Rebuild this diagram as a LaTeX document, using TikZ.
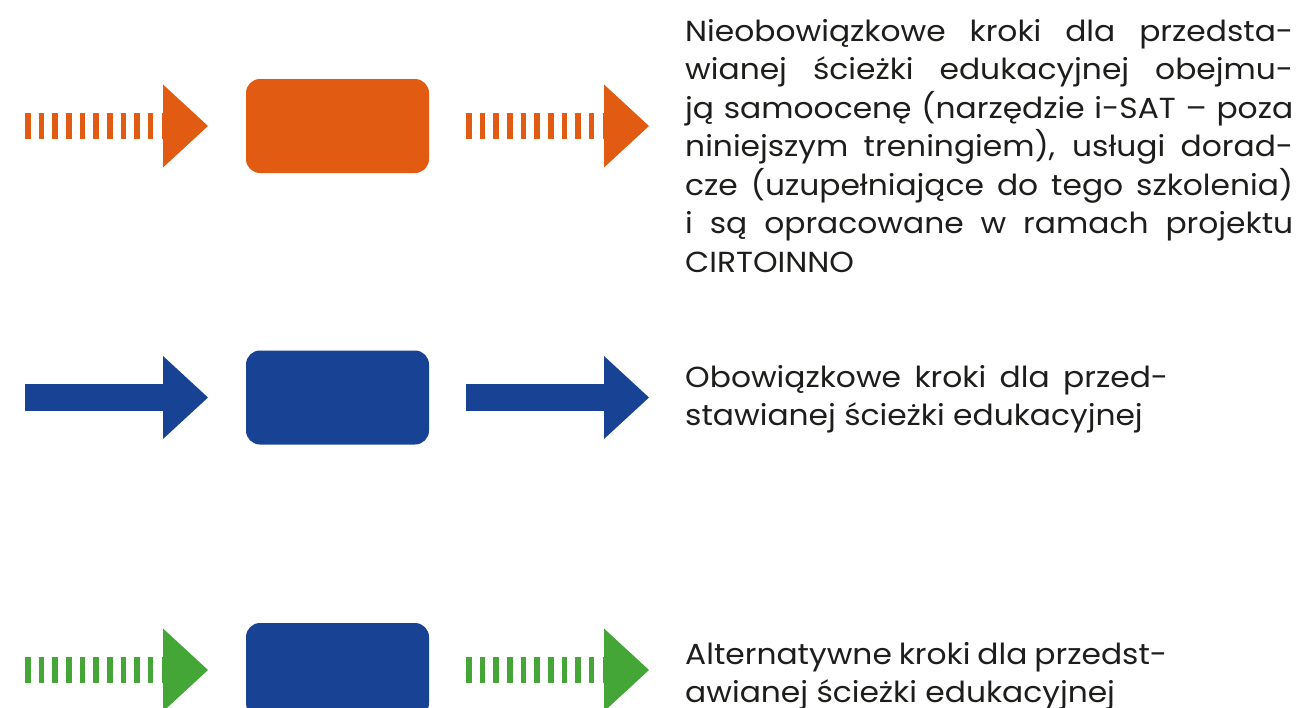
\documentclass[tikz,border=0pt]{standalone}
\usepackage{fontspec}
\setmainfont{Poppins}[FakeStretch=1.08]
\definecolor{stepOrange}{HTML}{E25B12}
\definecolor{stepBlue}{HTML}{184395}
\definecolor{stepGreen}{HTML}{43A637}
\definecolor{textGray}{HTML}{1D1D1B}
\tikzset{
  stepbox/.style={minimum width=183pt, minimum height=94pt, inner sep=0pt,
    rounded corners=14pt},
  legendtext/.style={anchor=base west, inner sep=0pt, text=textGray,
    font=\fontsize{29}{38.5}\selectfont},
  pics/striped arrow/.style={code={
    \draw[#1, line width=26pt, dash pattern=on 5.6pt off 8.05pt] (0,0) -- (138,0);
    \fill[#1] (138,-41.5) -- (183,0) -- (138,41.5) -- cycle;
  }},
  pics/solid arrow/.style={code={
    \fill[#1] (0,-13.5) rectangle (139,13.5);
    \fill[#1] (138,-41.5) -- (183,0) -- (138,41.5) -- cycle;
  }},
}
\begin{document}
\begin{tikzpicture}[x=1pt, y=-1pt]
\useasboundingbox (0,0) rectangle (1300,707);
\clip (0,0) rectangle (1300,707);

% optional steps
\pic at (25,126) {striped arrow=stepOrange};
\node[stepbox, fill=stepOrange] (optbox) at (337.5,126) {};
\pic at (466,126) {striped arrow=stepOrange};
\node[legendtext] (opttext) at (685,41) {\parbox[t]{608pt}{%
\makebox[608pt][s]{Nieobowiązkowe kroki dla przedsta-}\\
\makebox[608pt][s]{wianej ścieżki edukacyjnej obejmu-}\\
\makebox[608pt][s]{ją samoocenę (narzędzie i-SAT – poza}\\
\makebox[608pt][s]{niniejszym treningiem), usługi dorad-}\\
\makebox[608pt][s]{cze (uzupełniające do tego szkolenia)}\\
\makebox[608pt][s]{i są opracowane w ramach projektu}\\
CIRTOINNO}};

% mandatory steps
\pic at (25,397.5) {solid arrow=stepBlue};
\node[stepbox, fill=stepBlue] (mandbox) at (337.5,397.5) {};
\pic at (466,397.5) {solid arrow=stepBlue};
\node[legendtext] (mandtext) at (685,387) {\parbox[t]{500pt}{%
\makebox[483pt][s]{Obowiązkowe kroki dla przed-}\\
stawianej ścieżki edukacyjnej}};

% alternative steps
\pic at (25,670) {striped arrow=stepGreen};
\node[stepbox, fill=stepBlue] (altbox) at (337.5,670) {};
\pic at (466,670) {striped arrow=stepGreen};
\node[legendtext] (alttext) at (685,664) {\parbox[t]{500pt}{%
\makebox[482pt][s]{Alternatywne kroki dla przedst-}\\
awianej ścieżki edukacyjnej}};
\end{tikzpicture}
\end{document}
